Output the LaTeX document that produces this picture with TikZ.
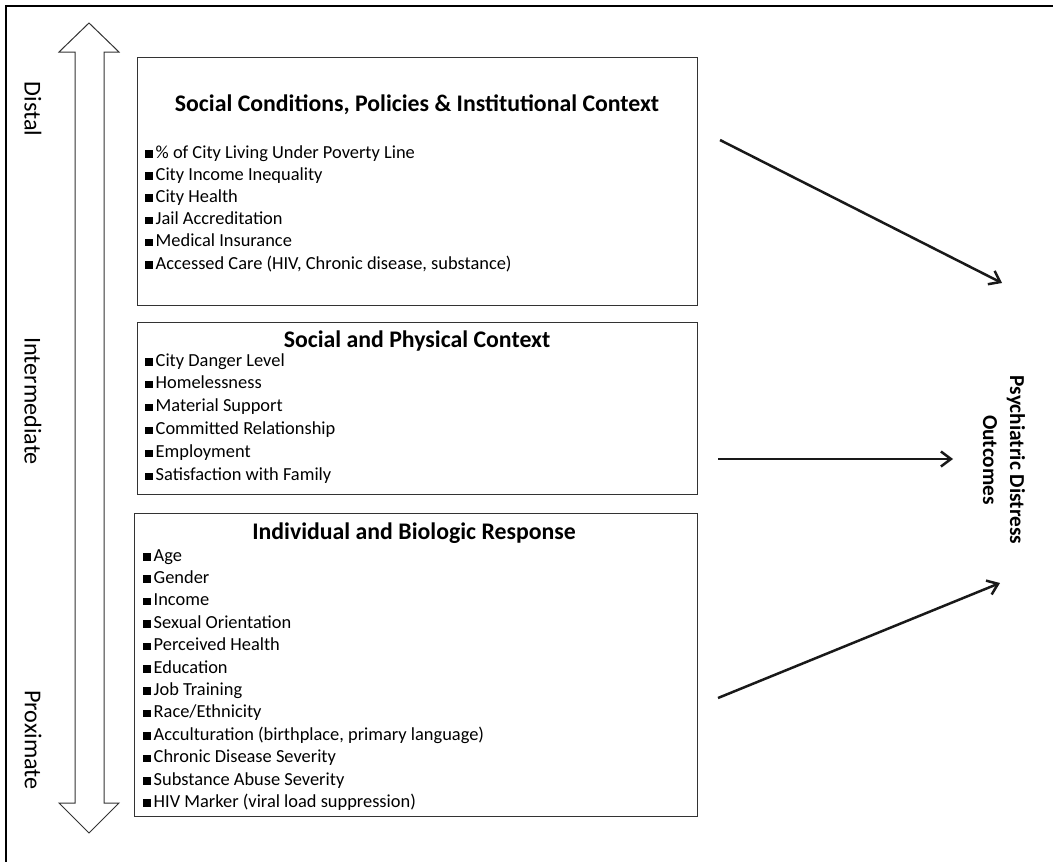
\documentclass[tikz,border=0pt]{standalone}
\usepackage{fontspec}
\setmainfont{Carlito}
\usetikzlibrary{arrows.meta}
\tikzset{
  box/.style={draw=black!80, line width=1pt, anchor=north west, inner sep=0pt},
  title/.style={font=\fontsize{23.8}{28}\selectfont\bfseries, anchor=base},
  item/.style={font=\fontsize{18.4}{22}\selectfont, anchor=base west, inner sep=0pt},
  level/.style={font=\fontsize{24.2}{29}\selectfont, rotate=-90, anchor=center},
  link/.style={-{Straight Barb[length=10pt,width=15pt,line width=2.5pt]}, line width=2.5pt, black!90}
}
\newcommand{\bul}{\rule[0.5pt]{7.5pt}{7.5pt}\hspace{3pt}}
\begin{document}
\begin{tikzpicture}[x=1pt, y=-1pt]
\useasboundingbox (0,0) rectangle (1053,862);
% Rahmen
\draw[line width=2pt] (6,862) -- (6,6) -- (1053,6);
% Doppelpfeil
\draw[line width=1pt, black!80] (89,23) -- (119,52) -- (104,52) -- (104,803) -- (119,803)
  -- (89,833) -- (59,803) -- (75,803) -- (75,52) -- (59,52) -- cycle;
\node [level] (distal) at (33,109) {Distal};
\node [level] (inter)  at (33,401) {Intermediate};
\node [level] (prox)   at (33,740) {Proximate};
% Boxen
\node [box, minimum width=560pt, minimum height=248pt] (b1) at (137,57) {};
\node [box, minimum width=560pt, minimum height=172pt] (b2) at (137,322) {};
\node [box, minimum width=563pt, minimum height=303pt] (b3) at (134,513) {};
\node [title] (t1) at (417,111) {Social Conditions, Policies \& Institutional Context};
\node [title] (t2) at (417,347) {Social and Physical Context};
\node [title] (t3) at (414,539) {Individual and Biologic Response};
% Items
\foreach \txt [count=\i] in {\% of City Living Under Poverty Line, City Income Inequality,
  City Health, Jail Accreditation, Medical Insurance,
  {Accessed Care (HIV, Chronic disease, substance)}}
  \node [item] (a\i) at (145,{158+22.2*(\i-1)}) {\bul\txt};
\foreach \txt [count=\i] in {City Danger Level, Homelessness, Material Support,
  Committed Relationship, Employment, Satisfaction with Family}
  \node [item] (c\i) at (145,{366+22.9*(\i-1)}) {\bul\txt};
\foreach \txt [count=\i] in {Age, Gender, Income, Sexual Orientation, Perceived Health,
  Education, Job Training, Race/Ethnicity,
  {Acculturation (birthplace, primary language)}, Chronic Disease Severity,
  Substance Abuse Severity, {HIV Marker (viral load suppression)}}
  \node [item] (d\i) at (143,{561+22.4*(\i-1)}) {\bul\txt};
% Ergebnis
\node [font=\fontsize{21.3}{27}\selectfont\bfseries, rotate=-90, align=center] (out) at (1004,460)
  {Psychiatric Distress\\Outcomes};
\coordinate (s1) at (720,140);
\coordinate (s2) at (718,459);
\coordinate (s3) at (718,698);
\coordinate (e1) at (1002,283);
\coordinate (e2) at (953,459);
\coordinate (e3) at (1000,583);
\draw [link] (s1) -- (e1);
\draw [link] (s2) -- (e2);
\draw [link] (s3) -- (e3);
\end{tikzpicture}
\end{document}
